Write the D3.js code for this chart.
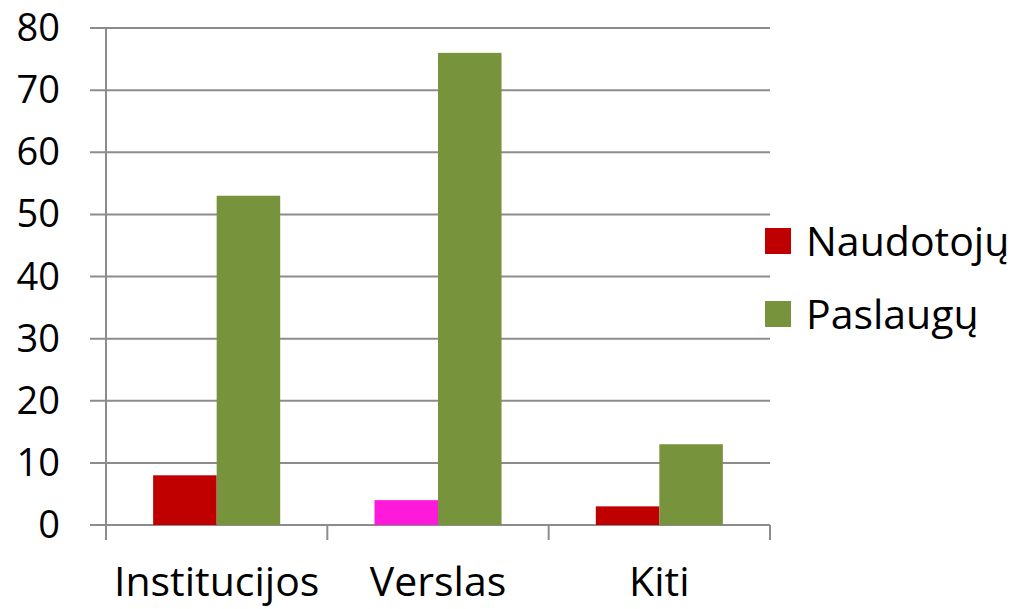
<!DOCTYPE html>
<html>
<head>
<meta charset="utf-8">
<script src="https://cdn.jsdelivr.net/npm/d3@7"></script>
<style>
  body { margin: 0; background: #fff; }
  text { font-family: "Open Sans", sans-serif; fill: #000; }
</style>
</head>
<body>
<div id="chart"></div>
<script>
// data
var categories = ["Institucijos", "Verslas", "Kiti"];
var seriesNames = ["Naudotojų", "Paslaugų"];
var naudotoju = [8, 4, 3];
var paslaugu = [53, 76, 13];
var yTicks = [0, 10, 20, 30, 40, 50, 60, 70, 80];

var seriesColors = ["#c00000", "#77933c"];
var highlightColor = "#ff1adb"; // Verslas / Naudotojų bar is magenta in the original

var svgWidth = 1016;
var svgHeight = 609;

var margin = { top: 28, right: 246, bottom: 84, left: 106 };
var width = svgWidth - margin.left - margin.right;
var height = svgHeight - margin.top - margin.bottom;

var svg = d3.select("#chart")
  .append("svg")
  .attr("width", svgWidth)
  .attr("height", svgHeight);

var chartGroup = svg.append("g")
  .attr("transform", `translate(${margin.left}, ${margin.top})`);

var x0 = d3.scaleBand()
  .domain(categories)
  .range([0, width])
  .paddingInner(0)
  .paddingOuter(0);

var x1 = d3.scaleBand()
  .domain(seriesNames)
  .range([x0.bandwidth() * 0.213, x0.bandwidth() * 0.787]);

var y = d3.scaleLinear()
  .domain([0, 80])
  .range([height, 0]);

var gridColor = "#8c8c8c";

// gridlines + left tick labels
chartGroup.selectAll(".grid")
  .data(yTicks)
  .enter()
  .append("line")
  .attr("x1", -16)
  .attr("x2", width)
  .attr("y1", d => y(d))
  .attr("y2", d => y(d))
  .attr("stroke", gridColor)
  .attr("stroke-width", 2);

chartGroup.selectAll(".ylab")
  .data(yTicks)
  .enter()
  .append("text")
  .attr("x", -46)
  .attr("y", d => y(d) + 13)
  .attr("text-anchor", "end")
  .attr("font-size", 38)
  .text(d => d);

// y axis line
chartGroup.append("line")
  .attr("x1", 0).attr("x2", 0)
  .attr("y1", 0).attr("y2", height + 15)
  .attr("stroke", gridColor)
  .attr("stroke-width", 2);

// bottom ticks
var bottomTicks = categories.map(c => x0(c) + x0.bandwidth());
chartGroup.selectAll(".xtick")
  .data(bottomTicks)
  .enter()
  .append("line")
  .attr("x1", d => d).attr("x2", d => d)
  .attr("y1", height).attr("y2", height + 15)
  .attr("stroke", gridColor)
  .attr("stroke-width", 2);

// bars
var rows = categories.map(function(c, i) {
  return { cat: c, values: [naudotoju[i], paslaugu[i]] };
});

var groups = chartGroup.selectAll(".cat")
  .data(rows)
  .enter()
  .append("g")
  .attr("transform", d => `translate(${x0(d.cat)}, 0)`);

groups.selectAll("rect")
  .data(d => d.values.map((v, j) => ({ cat: d.cat, name: seriesNames[j], j: j, value: v })))
  .enter()
  .append("rect")
  .attr("x", d => x1(d.name))
  .attr("width", x1.bandwidth())
  .attr("y", d => y(d.value))
  .attr("height", d => y(0) - y(d.value))
  .attr("fill", d => (d.cat === "Verslas" && d.j === 0) ? highlightColor : seriesColors[d.j]);

// category labels
chartGroup.selectAll(".xlab")
  .data(categories)
  .enter()
  .append("text")
  .attr("x", d => x0(d) + x0.bandwidth() / 2)
  .attr("y", height + 71)
  .attr("text-anchor", "middle")
  .attr("font-size", 41)
  .text(d => d);

// legend
var legend = svg.selectAll(".legend")
  .data(seriesNames)
  .enter()
  .append("g")
  .attr("transform", (d, i) => `translate(765, ${228 + i * 73})`);

legend.append("rect")
  .attr("width", 26)
  .attr("height", 26)
  .attr("fill", (d, i) => seriesColors[i]);

legend.append("text")
  .attr("x", 41)
  .attr("y", 13)
  .attr("dy", "0.36em")
  .attr("font-size", 41)
  .text(d => d);
</script>
</body>
</html>
